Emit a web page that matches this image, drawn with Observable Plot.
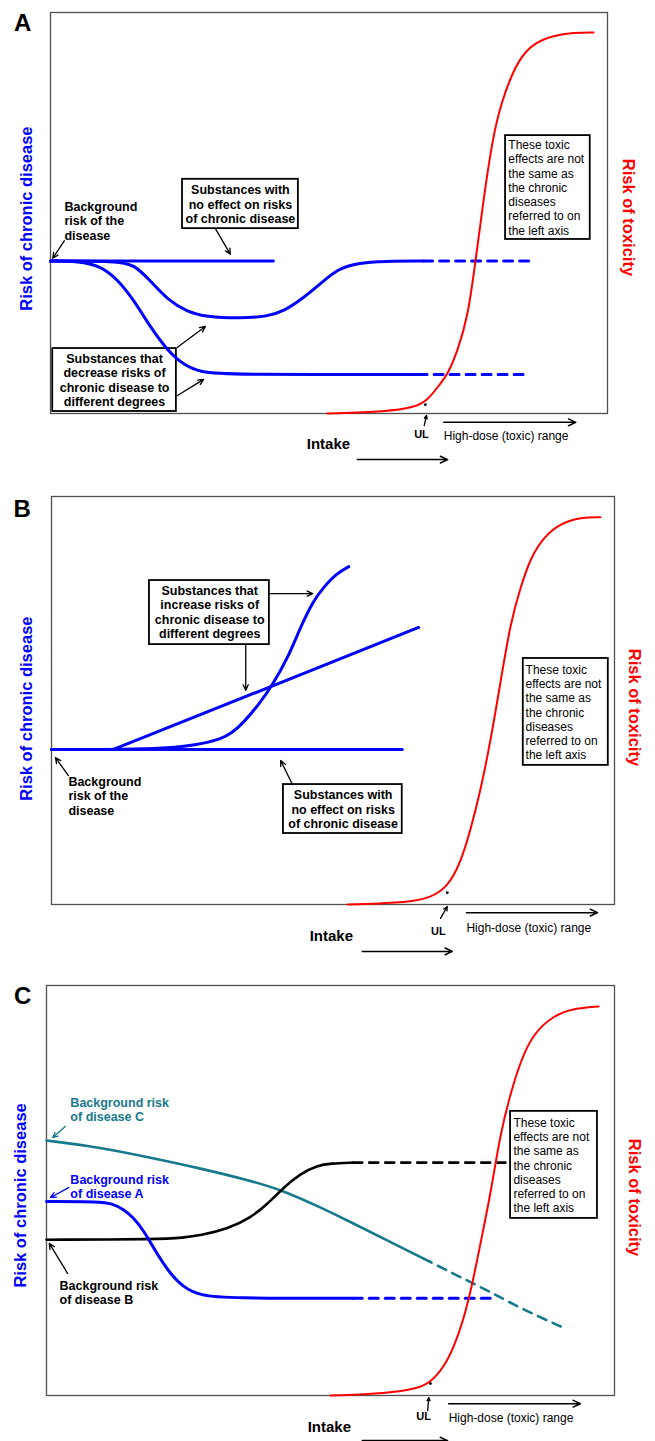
<!DOCTYPE html>
<html><head><meta charset="utf-8">
<script src="https://cdn.jsdelivr.net/npm/d3@7"></script>
<script src="https://cdn.jsdelivr.net/npm/@observablehq/plot@0.6"></script>
<style>
body{margin:0;background:#fff;}
#chart svg{display:block;}
</style></head><body><div id="chart"></div>
<script>
const FONT = '"Liberation Sans", Arial, Helvetica, sans-serif';
const BLUE = "#0000ff", RED = "#ff0000", TEAL = "#17798c", BLACK = "#000000";

// ---------- Panel A data (intake 0-100, risk 0-100) ----------
const aNoEffect = [[0,38],[40,38]];
const aDipSolid = [[0,38],[12,38],[15,37.2],[18,33],[21,28.4],[24.5,25.4],[28,24.1],[34,23.7],[39,24.2],[42,25.6],[45,28.4],[48.5,32.4],[51.5,36],[55,37.5],[60,38],[67,38]];
const aDipDash = [[67,38],[87,38]];
const aDropSolid = [[0,38],[5,38],[9,36.8],[12,33.5],[15,28.2],[18,21.4],[21,15.7],[24,12],[27,10.3],[31.5,9.7],[66,9.7]];
const aDropDash = [[66,9.7],[86,9.7]];
const aToxicity = [[49.7,0],[60.5,0.5],[65.2,1.5],[67.7,3.2],[70,7.5],[71.3,9.7],[73.1,15.7],[74.9,23.9],[76.3,37.9],[77.7,53],[79.5,69.8],[81.1,78],[82.6,83.8],[84.4,88.8],[86.7,92.3],[90.3,94.3],[93.9,95],[97.5,95]];

// ---------- Panel B data ----------
const bNoEffect = [[0,38],[62.3,38]];
const bLinear = [[0,38],[11,38],[65.2,67.9]];
const bSigmoid = [[0,38],[14,38],[20,38.3],[24,38.8],[27,39.5],[30,40.5],[32,42],[34,44.4],[37,49.3],[39.4,54.2],[42,60.5],[44.2,67.9],[46.5,74.5],[48.5,78],[50.5,81],[52.8,82.8]];
const bToxicity = [[52.6,0],[63.8,0.5],[67.3,1.7],[70.3,4.2],[72.6,10],[74.4,18.1],[76.2,27.9],[78,40.2],[79.8,54.9],[81.5,68.9],[83.3,77.7],[85.1,85],[87.4,90],[90.4,93.4],[94,94.9],[97.5,94.9]];

// ---------- Panel C data ----------
const cTealSolid = [[0,62.2],[9.5,60.5],[18.3,58],[27.1,55.4],[35.9,52.4],[41.7,50],[48.2,45.9],[54,42],[60,37.8],[66.4,33.4]];
const cTealDash = [[66.4,33.4],[74.1,28],[78.7,24.9],[83.5,21.2],[91.4,16.3]];
const cBlueSolid = [[0,47.3],[9.5,47.3],[11.5,46.8],[13.5,45.5],[15.3,43.4],[17.1,40.2],[18.8,36.1],[21.3,30.5],[24.1,26.3],[27.1,24.4],[32,23.7],[54,23.7]];
const cBlueDash = [[54,23.7],[78.2,23.7]];
const cBlackSolid = [[0,38],[20,38.1],[24,38.5],[27,39],[32,40.7],[36,43.4],[39,46.8],[41.7,50.7],[44.7,54.1],[47.7,56.1],[50,56.6],[54,56.8]];
const cBlackDash = [[54,56.8],[80.8,56.8]];
const cToxicity = [[50,0],[60,0.5],[65.3,1.7],[67.6,3.2],[69.9,6.8],[71.7,11.7],[73.4,18.3],[75,27.3],[76.4,37.1],[78.2,49.3],[79.9,63.9],[81.7,73.7],[83.5,81.7],[85.7,88.3],[89.3,92.7],[92.8,94.4],[97.2,94.9]];

// ---------- Texts ----------
const Y_LEFT = "Risk of chronic disease";
const Y_RIGHT = "Risk of toxicity";
const X_LABEL = "Intake";
const UL_LABEL = "UL";
const HIGH_DOSE = "High-dose (toxic) range";
const TOX_NOTE = "These toxic\neffects are not\nthe same as\nthe chronic\ndiseases\nreferred to on\nthe left axis";
const NO_EFFECT = "Substances with\nno effect on risks\nof chronic disease";
const DECREASE = "Substances that\ndecrease risks of\nchronic disease to\ndifferent degrees";
const INCREASE = "Substances that\nincrease risks of\nchronic disease to\ndifferent degrees";
const BACKGROUND = "Background\nrisk of the\ndisease";
const BG_A = "Background risk\nof disease A";
const BG_B = "Background risk\nof disease B";
const BG_C = "Background risk\nof disease C";

function panel(cfg) {
  const marks = [];
  marks.push(Plot.frame({stroke: "#505050", strokeWidth: 1.3}));
  marks.push(Plot.rect(cfg.boxes, {x1: "x1", x2: "x2", y1: "y1", y2: "y2", fill: "white", stroke: "black", strokeWidth: 1.8}));
  for (const s of cfg.series) {
    marks.push(Plot.line(s.data, {stroke: s.color, strokeWidth: s.w, strokeDasharray: s.dash ? "9,7" : undefined, curve: s.curve || "basis"}));
  }
  for (const a of cfg.arrows) {
    marks.push(Plot.arrow([a], {x1: "x1", y1: "y1", x2: "x2", y2: "y2", stroke: a.color || BLACK, strokeWidth: a.w || 1.3, headLength: a.head || 7, headAngle: 50}));
  }
  marks.push(Plot.dot(cfg.dots, {x: "x", y: "y", r: 1.4, fill: BLACK}));
  for (const t of cfg.texts) {
    marks.push(Plot.text([t], {
      x: "x", y: "y", text: "text",
      fill: t.color || BLACK, fontSize: t.size || 12, fontWeight: t.weight || "normal",
      textAnchor: t.anchor || "middle", rotate: t.rotate || 0,
      lineHeight: t.lh || 1.16, fontFamily: FONT
    }));
  }
  return Plot.plot({
    width: 655, height: cfg.height,
    marginTop: cfg.mt, marginBottom: cfg.mb, marginLeft: cfg.ml, marginRight: cfg.mr,
    x: {domain: [0, 100], axis: null},
    y: {domain: [0, 100], axis: null},
    style: {fontFamily: FONT, background: "white", overflow: "visible"},
    marks
  });
}

function common(letter, p) {
  return [
    {x: p.letter[0], y: p.letter[1], text: letter, size: 24, weight: "bold"},
    {x: p.yl[0], y: p.yl[1], text: Y_LEFT, color: BLUE, size: 16.5, weight: "bold", rotate: -90},
    {x: p.yr[0], y: p.yr[1], text: Y_RIGHT, color: RED, size: 16.5, weight: "bold", rotate: 90},
    {x: p.intake[0], y: p.intake[1], text: X_LABEL, size: 15, weight: "bold"},
    {x: p.ul[0], y: p.ul[1], text: UL_LABEL, size: 11, weight: "bold"},
    {x: p.hd[0], y: p.hd[1], text: HIGH_DOSE, size: 12, anchor: "start"},
    {x: p.tox[0], y: p.tox[1], text: TOX_NOTE, size: 12, anchor: "start", lh: 1.19}
  ];
}

const A = panel({
  height: 480, mt: 12, mb: 67, ml: 50, mr: 48,
  boxes: [
    {x1: 23.7, x2: 44.5, y1: 46.1, y2: 58.4},
    {x1: 0.4, x2: 22.6, y1: 0.5, y2: 16.2},
    {x1: 81.7, x2: 96.9, y1: 43.4, y2: 69.3}
  ],
  series: [
    {data: aNoEffect, color: BLUE, w: 3, curve: "linear"},
    {data: aDipSolid, color: BLUE, w: 3},
    {data: aDipDash, color: BLUE, w: 3, dash: true, curve: "linear"},
    {data: aDropSolid, color: BLUE, w: 3},
    {data: aDropDash, color: BLUE, w: 3, dash: true, curve: "linear"},
    {data: aToxicity, color: RED, w: 2}
  ],
  arrows: [
    {x1: 29.6, y1: 46.1, x2: 32.3, y2: 39.7},
    {x1: 2.5, y1: 43.1, x2: 0.4, y2: 38.7},
    {x1: 22.8, y1: 16.5, x2: 27.8, y2: 21.7},
    {x1: 22.8, y1: 4.5, x2: 27.5, y2: 8.5},
    {x1: 67.1, y1: -3.0, x2: 67.5, y2: -0.5, head: 4},
    {x1: 70.6, y1: -2.2, x2: 94.3, y2: -2.2, w: 1.5, head: 8},
    {x1: 55.1, y1: -11.5, x2: 71.3, y2: -11.5, w: 1.5, head: 8}
  ],
  dots: [{x: 67.3, y: 2.2}],
  texts: [
    ...common("A", {letter: [-5.0, 97.5], yl: [-4.5, 48.6], yr: [103.8, 48.9], intake: [49.9, -7.5], ul: [66.6, -5.0], hd: [70.6, -5.5], tox: [82.2, 56.4]}),
    {x: 34.1, y: 52.2, text: NO_EFFECT, size: 12.5, weight: "bold"},
    {x: 2.5, y: 48.1, text: BACKGROUND, size: 12.5, weight: "bold", anchor: "start"},
    {x: 11.5, y: 8.4, text: DECREASE, size: 12.5, weight: "bold"}
  ]
});

const B = panel({
  height: 480, mt: 16, mb: 56, ml: 51, mr: 41,
  boxes: [
    {x1: 17.4, x2: 38.7, y1: 63.7, y2: 79.4},
    {x1: 41.2, x2: 62.3, y1: 17.4, y2: 29.4},
    {x1: 83.8, x2: 98.9, y1: 34.1, y2: 60.3}
  ],
  series: [
    {data: bNoEffect, color: BLUE, w: 3, curve: "linear"},
    {data: bLinear, color: BLUE, w: 3, curve: "linear"},
    {data: bSigmoid, color: BLUE, w: 3},
    {data: bToxicity, color: RED, w: 2}
  ],
  arrows: [
    {x1: 38.7, y1: 76.2, x2: 46.4, y2: 76.2},
    {x1: 34.5, y1: 63.7, x2: 34.5, y2: 52.5},
    {x1: 3.0, y1: 31.6, x2: 0.7, y2: 36.0},
    {x1: 42.8, y1: 29.4, x2: 40.7, y2: 35.3},
    {x1: 69.1, y1: -3.4, x2: 70.3, y2: -0.5, head: 5},
    {x1: 73.7, y1: -2.0, x2: 97, y2: -2.0, w: 1.5, head: 8},
    {x1: 55.2, y1: -11.5, x2: 71.2, y2: -11.5, w: 1.5, head: 8}
  ],
  dots: [{x: 70.3, y: 2.9}],
  texts: [
    ...common("B", {letter: [-5.2, 97.1], yl: [-4.6, 48.0], yr: [103.7, 48.3], intake: [49.7, -7.6], ul: [68.7, -6.4], hd: [73.7, -5.6], tox: [84.2, 47.2]}),
    {x: 28.1, y: 71.7, text: INCREASE, size: 12.5, weight: "bold"},
    {x: 3.0, y: 26.7, text: BACKGROUND, size: 12.5, weight: "bold", anchor: "start"},
    {x: 51.8, y: 23.4, text: NO_EFFECT, size: 12.5, weight: "bold"}
  ]
});

const C = panel({
  height: 481, mt: 25, mb: 46, ml: 46, mr: 41,
  boxes: [
    {x1: 81.7, x2: 97.0, y1: 43.2, y2: 69.3}
  ],
  series: [
    {data: cTealSolid, color: TEAL, w: 2.6},
    {data: cTealDash, color: TEAL, w: 2.6, dash: true},
    {data: cBlackSolid, color: BLACK, w: 2.6},
    {data: cBlackDash, color: BLACK, w: 2.6, dash: true, curve: "linear"},
    {data: cBlueSolid, color: BLUE, w: 3},
    {data: cBlueDash, color: BLUE, w: 3, dash: true, curve: "linear"},
    {data: cToxicity, color: RED, w: 2}
  ],
  arrows: [
    {x1: 3.3, y1: 65.6, x2: 1.1, y2: 62.9, color: TEAL},
    {x1: 3.9, y1: 50.7, x2: 0.7, y2: 48.3, color: BLUE},
    {x1: 3.7, y1: 29.8, x2: 0.5, y2: 37.1},
    {x1: 67.1, y1: -3.7, x2: 67.3, y2: -0.5, head: 4},
    {x1: 70.8, y1: -2.0, x2: 94.0, y2: -2.0, w: 1.5, head: 8},
    {x1: 55.6, y1: -11.0, x2: 70.6, y2: -11.0, w: 1.5, head: 8}
  ],
  dots: [{x: 67.6, y: 2.9}],
  texts: [
    ...common("C", {letter: [-4.2, 97.6], yl: [-4.6, 48.8], yr: [103.7, 48.3], intake: [49.8, -7.6], ul: [66.4, -4.9], hd: [70.8, -5.4], tox: [82.2, 56.2]}),
    {x: 4.2, y: 69.8, text: BG_C, size: 12.5, weight: "bold", anchor: "start", color: TEAL},
    {x: 4.2, y: 51.0, text: BG_A, size: 12.5, weight: "bold", anchor: "start", color: BLUE},
    {x: 2.3, y: 25.2, text: BG_B, size: 12.5, weight: "bold", anchor: "start"}
  ]
});

const root = document.getElementById("chart");
root.append(A, B, C);
</script>
</body></html>
